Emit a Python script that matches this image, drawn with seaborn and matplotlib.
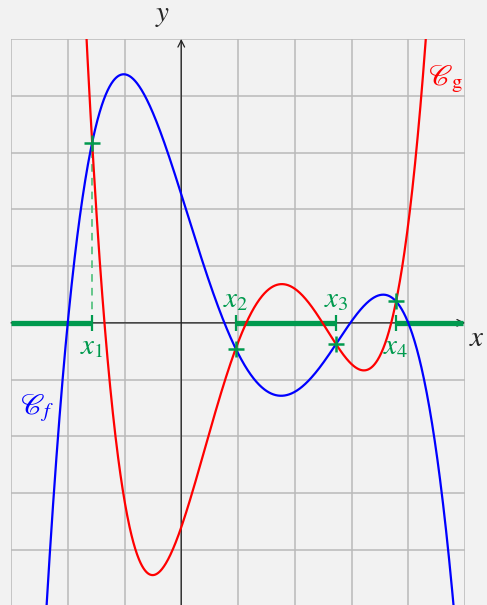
import numpy as np
import pandas as pd
import matplotlib
matplotlib.use("Agg")
import matplotlib.pyplot as plt
import seaborn as sns

# Curve definitions: roots and leading coefficients of the two quartics
f_roots = [-2.0, 0.76, 2.98, 4.0]
f_lead = -0.125
g_roots = [-1.353, 1.146, 2.49, 3.70]
g_lead = 0.252

x_range = [-3.0, 5.0]
y_range = [-4.97, 5.0]

intersection_labels = ["$x_1$", "$x_2$", "$x_3$", "$x_4$"]
label_above = [False, True, True, False]

BLUE = "#0000ff"
RED = "#ff0000"
GREEN = "#009a4e"
DASH_GREEN = "#3dbb6e"
BG = "#f2f2f2"
GRID = "#b9b9b9"

sns.set_style("white")
plt.rcParams["mathtext.fontset"] = "stix"
plt.rcParams["font.family"] = ["DejaVu Serif"]

f_coef = f_lead * np.poly(f_roots)
g_coef = g_lead * np.poly(g_roots)

xs = np.linspace(x_range[0], x_range[1], 1200)
df = pd.DataFrame({
    "x": np.concatenate([xs, xs]),
    "y": np.concatenate([np.polyval(f_coef, xs), np.polyval(g_coef, xs)]),
    "curve": ["f"] * len(xs) + ["g"] * len(xs),
})

# Abscissas where the two curves meet
diff_roots = np.roots(g_coef - f_coef)
xi = np.sort(diff_roots[np.abs(diff_roots.imag) < 1e-9].real)
xi = xi[(xi > x_range[0]) & (xi < x_range[1])]
yi = np.polyval(f_coef, xi)

fig = plt.figure(figsize=(4.87, 6.05), dpi=100, facecolor=BG)
ax = fig.add_axes([11 / 487, 0.0, 454 / 487, 566 / 605])
ax.set_facecolor(BG)
ax.set_xlim(*x_range)
ax.set_ylim(*y_range)

# grid
for gx in range(int(x_range[0]), int(x_range[1]) + 1):
    ax.axvline(gx, color=GRID, lw=1.1, zorder=0)
for gy in range(-4, int(y_range[1]) + 1):
    ax.axhline(gy, color=GRID, lw=1.1, zorder=0)
for s in ax.spines.values():
    s.set_visible(False)
ax.set_xticks([])
ax.set_yticks([])

# axes with arrows
ax.annotate("", xy=(x_range[1], 0), xytext=(x_range[0], 0),
            arrowprops=dict(arrowstyle="->", color="#222222", lw=0.9,
                            shrinkA=0, shrinkB=0, mutation_scale=12), zorder=2)
ax.annotate("", xy=(0, y_range[1]), xytext=(0, y_range[0]),
            arrowprops=dict(arrowstyle="->", color="#222222", lw=0.9,
                            shrinkA=0, shrinkB=0, mutation_scale=12), zorder=2)

# solution set on the x-axis (where g >= f)
seg_kw = dict(color=GREEN, lw=3.8, solid_capstyle="butt", zorder=3)
ax.plot([x_range[0], xi[0]], [0, 0], **seg_kw)
ax.plot([xi[1], xi[2]], [0, 0], **seg_kw)
ax.plot([xi[3], x_range[1] - 0.04], [0, 0], **seg_kw)

# curves
sns.lineplot(data=df, x="x", y="y", hue="curve", palette={"f": BLUE, "g": RED},
             lw=1.6, legend=False, ax=ax, sort=False, zorder=4)
ax.set_xlabel("")
ax.set_ylabel("")

# dashed projection of the first intersection
ax.plot([xi[0], xi[0]], [0, yi[0]], color=DASH_GREEN, lw=1.1,
        dashes=(5, 4), zorder=3)

# intersection markers and axis ticks
ax.plot(xi, yi, ls="none", marker="+", ms=12, mew=1.8, color=GREEN, zorder=5)
ax.plot(xi, np.zeros_like(xi), ls="none", marker="|", ms=11, mew=1.6,
        color=GREEN, zorder=5)

for x0, lab, up in zip(xi, intersection_labels, label_above):
    ax.text(x0, 0.17 if up else -0.17, lab, color=GREEN, fontsize=21,
            ha="center", va="bottom" if up else "top", zorder=6)

ax.text(-2.55, -1.5, r"$\mathscr{C}_f$", color=BLUE, fontsize=21,
        ha="center", va="center", zorder=6)
ax.text(4.66, 4.3, r"$\mathscr{C}_{\mathrm{g}}$", color=RED, fontsize=21,
        ha="center", va="center", zorder=6)

ax.text(-0.33, 5.42, "$y$", fontsize=21, ha="center", va="center",
        clip_on=False)
ax.text(5.35, -0.27, "$x$", fontsize=21, ha="right", va="center",
        clip_on=False)

fig.savefig("out.png", dpi=100, facecolor=BG)
